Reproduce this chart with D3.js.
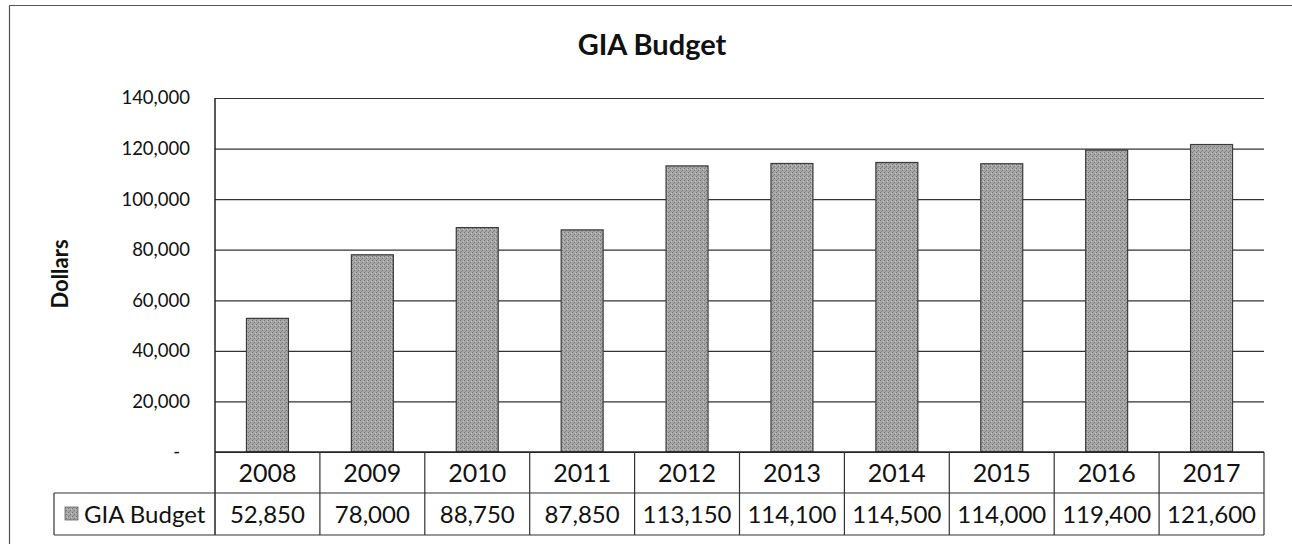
<!DOCTYPE html>
<html>
<head>
<meta charset="utf-8">
<script src="https://cdn.jsdelivr.net/npm/d3@7"></script>
<style>
  body { margin: 0; background: #fff; overflow: hidden; }
  svg { display: block; font-family: Lato, "Open Sans", sans-serif; }
</style>
</head>
<body>
<div id="chart"></div>
<script>
// data
var years = ['2008', '2009', '2010', '2011', '2012', '2013', '2014', '2015', '2016', '2017'];
var budget = [52850, 78000, 88750, 87850, 113150, 114100, 114500, 114000, 119400, 121600];
var yTicks = [0, 20000, 40000, 60000, 80000, 100000, 120000, 140000];
var seriesName = 'GIA Budget';

var width = 1292, height = 544;
var plotLeft = 215, plotRight = 1264, plotTop = 98, plotBottom = 452;
var rowH1 = 41, rowH2 = 42;
var tableLeft = 54;

var svg = d3.select('#chart').append('svg')
  .attr('width', width)
  .attr('height', height);

// dither-ish fill for the bars
var defs = svg.append('defs');
var pat = defs.append('pattern')
  .attr('id', 'dither')
  .attr('width', 4).attr('height', 4)
  .attr('patternUnits', 'userSpaceOnUse');
pat.append('rect').attr('width', 4).attr('height', 4).attr('fill', '#a6a6a6');
pat.append('rect').attr('x', 0).attr('y', 0).attr('width', 1).attr('height', 1).attr('fill', '#767676');
pat.append('rect').attr('x', 2).attr('y', 2).attr('width', 1).attr('height', 1).attr('fill', '#767676');
pat.append('rect').attr('x', 3).attr('y', 1).attr('width', 1).attr('height', 1).attr('fill', '#c4c4c4');
pat.append('rect').attr('x', 1).attr('y', 3).attr('width', 1).attr('height', 1).attr('fill', '#888');

// outer frame: only top and left edges are inside the crop
svg.append('line')
  .attr('x1', 9.5).attr('x2', width)
  .attr('y1', 5.5).attr('y2', 5.5)
  .attr('stroke', '#555').attr('stroke-width', 1.2);
svg.append('line')
  .attr('x1', 9.5).attr('x2', 9.5)
  .attr('y1', 5.5).attr('y2', height)
  .attr('stroke', '#555').attr('stroke-width', 1.2);

/* Scales */
var x = d3.scaleBand()
  .domain(years)
  .range([plotLeft, plotRight])
  .paddingInner(0.6)
  .paddingOuter(0.3);

var cols = d3.scaleBand()
  .domain(years)
  .range([plotLeft, plotRight]);

var y = d3.scaleLinear()
  .domain([0, 140000])
  .range([plotBottom, plotTop]);

/* Title */
svg.append('text')
  .attr('x', 652)
  .attr('y', 55)
  .attr('text-anchor', 'middle')
  .attr('font-size', 29)
  .attr('font-weight', 'bold')
  .attr('fill', '#111')
  .text('GIA Budget');

/* Y axis label */
svg.append('text')
  .attr('transform', 'translate(68, 274) rotate(-90)')
  .attr('text-anchor', 'middle')
  .attr('font-size', 22)
  .attr('font-weight', 'bold')
  .attr('fill', '#111')
  .text('Dollars');

/* Gridlines + tick labels */
var yAxis = d3.axisLeft(y)
  .tickValues(yTicks)
  .tickSize(plotLeft - plotRight)
  .tickPadding(25)
  .tickFormat(function (d) { return d === 0 ? '-' : d3.format(',')(d); });

var gy = svg.append('g')
  .attr('class', 'y axis')
  .attr('transform', `translate(${plotLeft}, 0)`)
  .call(yAxis);
gy.select('.domain').remove();
gy.selectAll('.tick line')
  .attr('stroke', '#333')
  .attr('stroke-width', 1.2);
gy.selectAll('.tick text')
  .attr('font-size', 18.5)
  .attr('font-family', 'Lato, sans-serif')
  .attr('fill', '#111');
gy.selectAll('.tick')
  .filter(function (d) { return d === 0; })
  .select('text')
  .attr('x', -35);

/* Bars */
svg.append('g')
  .selectAll('rect')
  .data(budget)
  .enter().append('rect')
  .attr('x', (d, i) => x(years[i]))
  .attr('y', d => y(d))
  .attr('width', x.bandwidth())
  .attr('height', d => y(0) - y(d))
  .attr('fill', 'url(#dither)')
  .attr('stroke', '#3a3a3a')
  .attr('stroke-width', 1.2);

/* Y axis line */
svg.append('line')
  .attr('x1', plotLeft).attr('x2', plotLeft)
  .attr('y1', plotTop).attr('y2', plotBottom + rowH1 + rowH2)
  .attr('stroke', '#222')
  .attr('stroke-width', 1.5);

/* Data table */
var table = svg.append('g').attr('class', 'table');
var row1Top = plotBottom, row2Top = plotBottom + rowH1, row2Bottom = row2Top + rowH2;

// horizontal lines
table.append('line')
  .attr('x1', plotLeft).attr('x2', plotRight)
  .attr('y1', row1Top).attr('y2', row1Top)
  .attr('stroke', '#222').attr('stroke-width', 1.3);
table.append('line')
  .attr('x1', tableLeft).attr('x2', plotRight)
  .attr('y1', row2Top).attr('y2', row2Top)
  .attr('stroke', '#333').attr('stroke-width', 1.2);
table.append('line')
  .attr('x1', tableLeft).attr('x2', plotRight)
  .attr('y1', row2Bottom).attr('y2', row2Bottom)
  .attr('stroke', '#333').attr('stroke-width', 1.2);

// vertical lines
table.selectAll('line.col')
  .data(years)
  .enter().append('line')
  .attr('class', 'col')
  .attr('x1', d => cols(d) + cols.bandwidth())
  .attr('x2', d => cols(d) + cols.bandwidth())
  .attr('y1', row1Top).attr('y2', row2Bottom)
  .attr('stroke', '#333').attr('stroke-width', 1.2);
table.append('line')
  .attr('x1', tableLeft).attr('x2', tableLeft)
  .attr('y1', row2Top).attr('y2', row2Bottom)
  .attr('stroke', '#333').attr('stroke-width', 1.2);

// year headers
table.selectAll('text.year')
  .data(years)
  .enter().append('text')
  .attr('class', 'year')
  .attr('x', d => cols(d) + cols.bandwidth() / 2)
  .attr('y', row1Top + rowH1 / 2)
  .attr('dy', '0.36em')
  .attr('text-anchor', 'middle')
  .attr('font-size', 25)
  .attr('fill', '#111')
  .text(d => d);

// values
table.selectAll('text.val')
  .data(budget)
  .enter().append('text')
  .attr('class', 'val')
  .attr('x', (d, i) => cols(years[i]) + cols.bandwidth() / 2)
  .attr('y', row2Top + rowH2 / 2)
  .attr('dy', '0.36em')
  .attr('text-anchor', 'middle')
  .attr('font-size', 24)
  .attr('fill', '#111')
  .text(d => d3.format(',')(d));

// legend key + series name
table.append('rect')
  .attr('x', 65).attr('y', row2Top + rowH2 / 2 - 7)
  .attr('width', 13).attr('height', 13)
  .attr('fill', 'url(#dither)')
  .attr('stroke', '#666').attr('stroke-width', 0.8);
table.append('text')
  .attr('x', 84)
  .attr('y', row2Top + rowH2 / 2)
  .attr('dy', '0.36em')
  .attr('font-size', 24)
  .attr('fill', '#111')
  .text(seriesName);
</script>
</body>
</html>
